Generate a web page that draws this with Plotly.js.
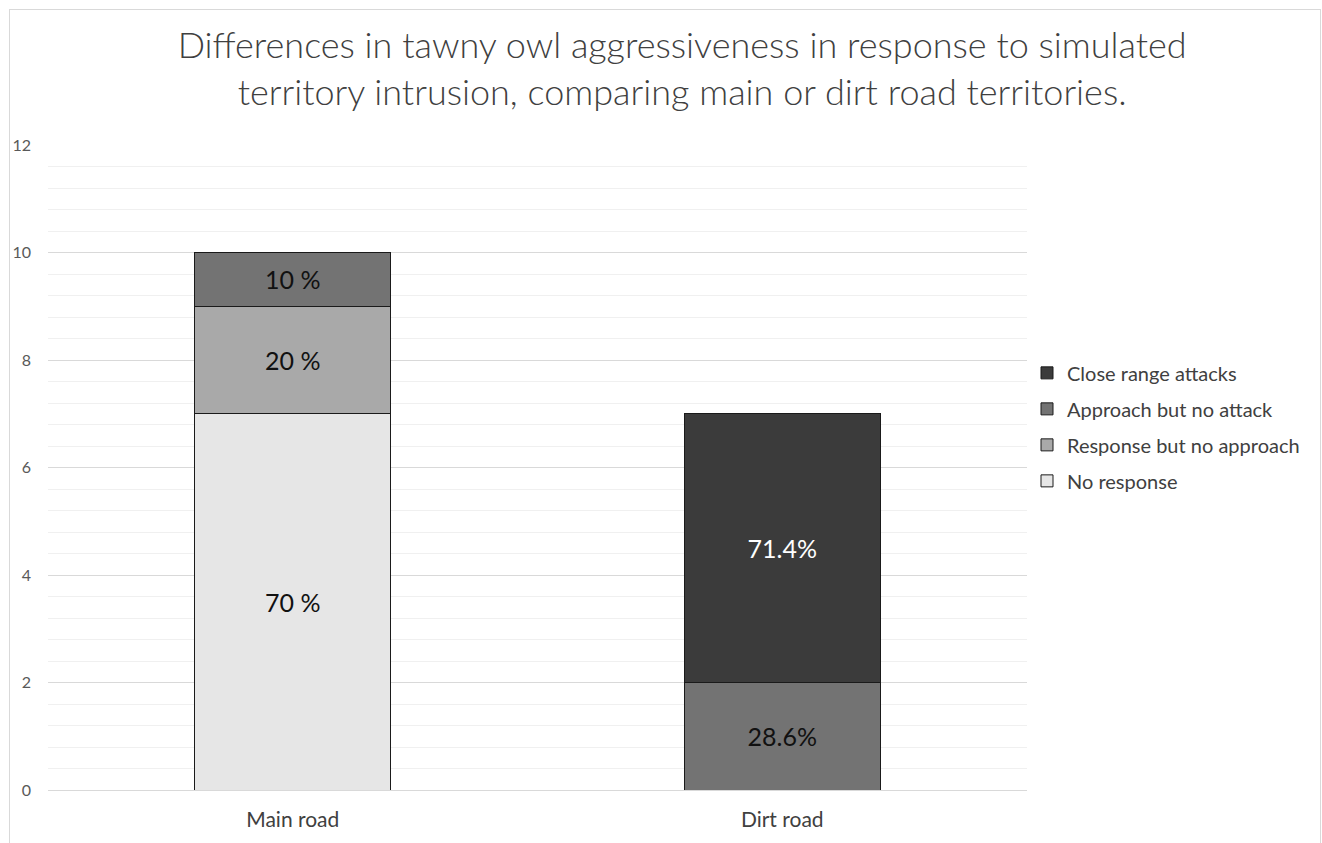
<!DOCTYPE html>
<html>
<head>
<meta charset="utf-8">
<script src="https://cdn.plot.ly/plotly-3.0.1.min.js"></script>
<style>
html,body{margin:0;padding:0;background:#fff;}
#frame{position:absolute;left:9px;top:9px;width:1310px;height:860px;border:1px solid #d9d9d9;pointer-events:none;z-index:5;}
#chart{position:absolute;left:0;top:0;width:1322px;height:843px;}
</style>
</head>
<body>
<div id="frame"></div>
<div id="chart"></div>
<script>
const categories = ["Main road", "Dirt road"];
const seriesNames = ["No response", "Response but no approach", "Approach but no attack", "Close range attacks"];
const noResponse = [7, 0];
const responseNoApproach = [2, 0];
const approachNoAttack = [1, 2];
const closeRangeAttacks = [0, 5];
const noResponseLabels = ["70 %", ""];
const responseNoApproachLabels = ["20 %", ""];
const approachNoAttackLabels = ["10 %", "28.6%"];
const closeRangeAttacksLabels = ["", "71.4%"];
const yTicks = [0, 2, 4, 6, 8, 10, 12];

const values = [noResponse, responseNoApproach, approachNoAttack, closeRangeAttacks];
const labels = [noResponseLabels, responseNoApproachLabels, approachNoAttackLabels, closeRangeAttacksLabels];
const colors = ["#e6e6e6", "#a9a9a9", "#737373", "#3b3b3b"];
const textColors = ["#111", "#111", "#111", "#fff"];
const FONT = "Lato, 'Open Sans', sans-serif";

const traces = seriesNames.map((name, i) => ({
  type: "bar",
  name: name,
  x: categories,
  y: values[i],
  text: labels[i],
  textposition: "inside",
  insidetextanchor: "middle",
  textangle: 0,
  constraintext: "none",
  textfont: {family: FONT, size: 25, color: textColors[i]},
  marker: {color: colors[i], line: {color: "#1a1a1a", width: 1}},
  legendgroup: "g" + i,
  legendrank: seriesNames.length - i,
  hoverinfo: "none"
}));

const layout = {
  width: 1322, height: 843,
  paper_bgcolor: "rgba(0,0,0,0)",
  plot_bgcolor: "#fff",
  margin: {l: 48, r: 295, t: 145, b: 53, autoexpand: false},
  barmode: "stack",
  bargap: 0.6,
  showlegend: true,
  title: {
    text: "Differences in tawny owl aggressiveness in response to simulated<br>territory intrusion, comparing main or dirt road territories.",
    font: {family: FONT, size: 36, color: "#404040", weight: 300},
    xref: "container", x: 0.516, xanchor: "center",
    yref: "container", y: 1 - 58 / 843, yanchor: "middle"
  },
  xaxis: {
    type: "category",
    showgrid: false,
    showline: false,
    zeroline: false,
    ticks: "",
    tickfont: {family: FONT, size: 21, color: "#404040"},
    ticklabelstandoff: 15
  },
  yaxis: {
    range: [0, 12],
    tickvals: yTicks,
    ticktext: yTicks.map(String),
    showgrid: true,
    gridcolor: "#d9d9d9",
    gridwidth: 1,
    zeroline: true,
    zerolinecolor: "#d9d9d9",
    zerolinewidth: 1,
    showline: false,
    ticks: "",
    tickfont: {family: FONT, size: 16, color: "#595959"},
    ticklabelstandoff: 16,
    minor: {dtick: 0.4, tick0: 0, showgrid: true, gridcolor: "#f0f0f0", gridwidth: 1, ticks: ""}
  },
  legend: {
    xref: "paper",
    x: 1.0, xanchor: "left",
    y: 0.563, yanchor: "middle",
    traceorder: "grouped",
    tracegroupgap: 7,
    font: {family: FONT, size: 20, color: "#404040"},
    itemwidth: 30,
    bgcolor: "rgba(0,0,0,0)"
  }
};

Plotly.newPlot("chart", traces, layout, {displayModeBar: false, staticPlot: true});
</script>
</body>
</html>
